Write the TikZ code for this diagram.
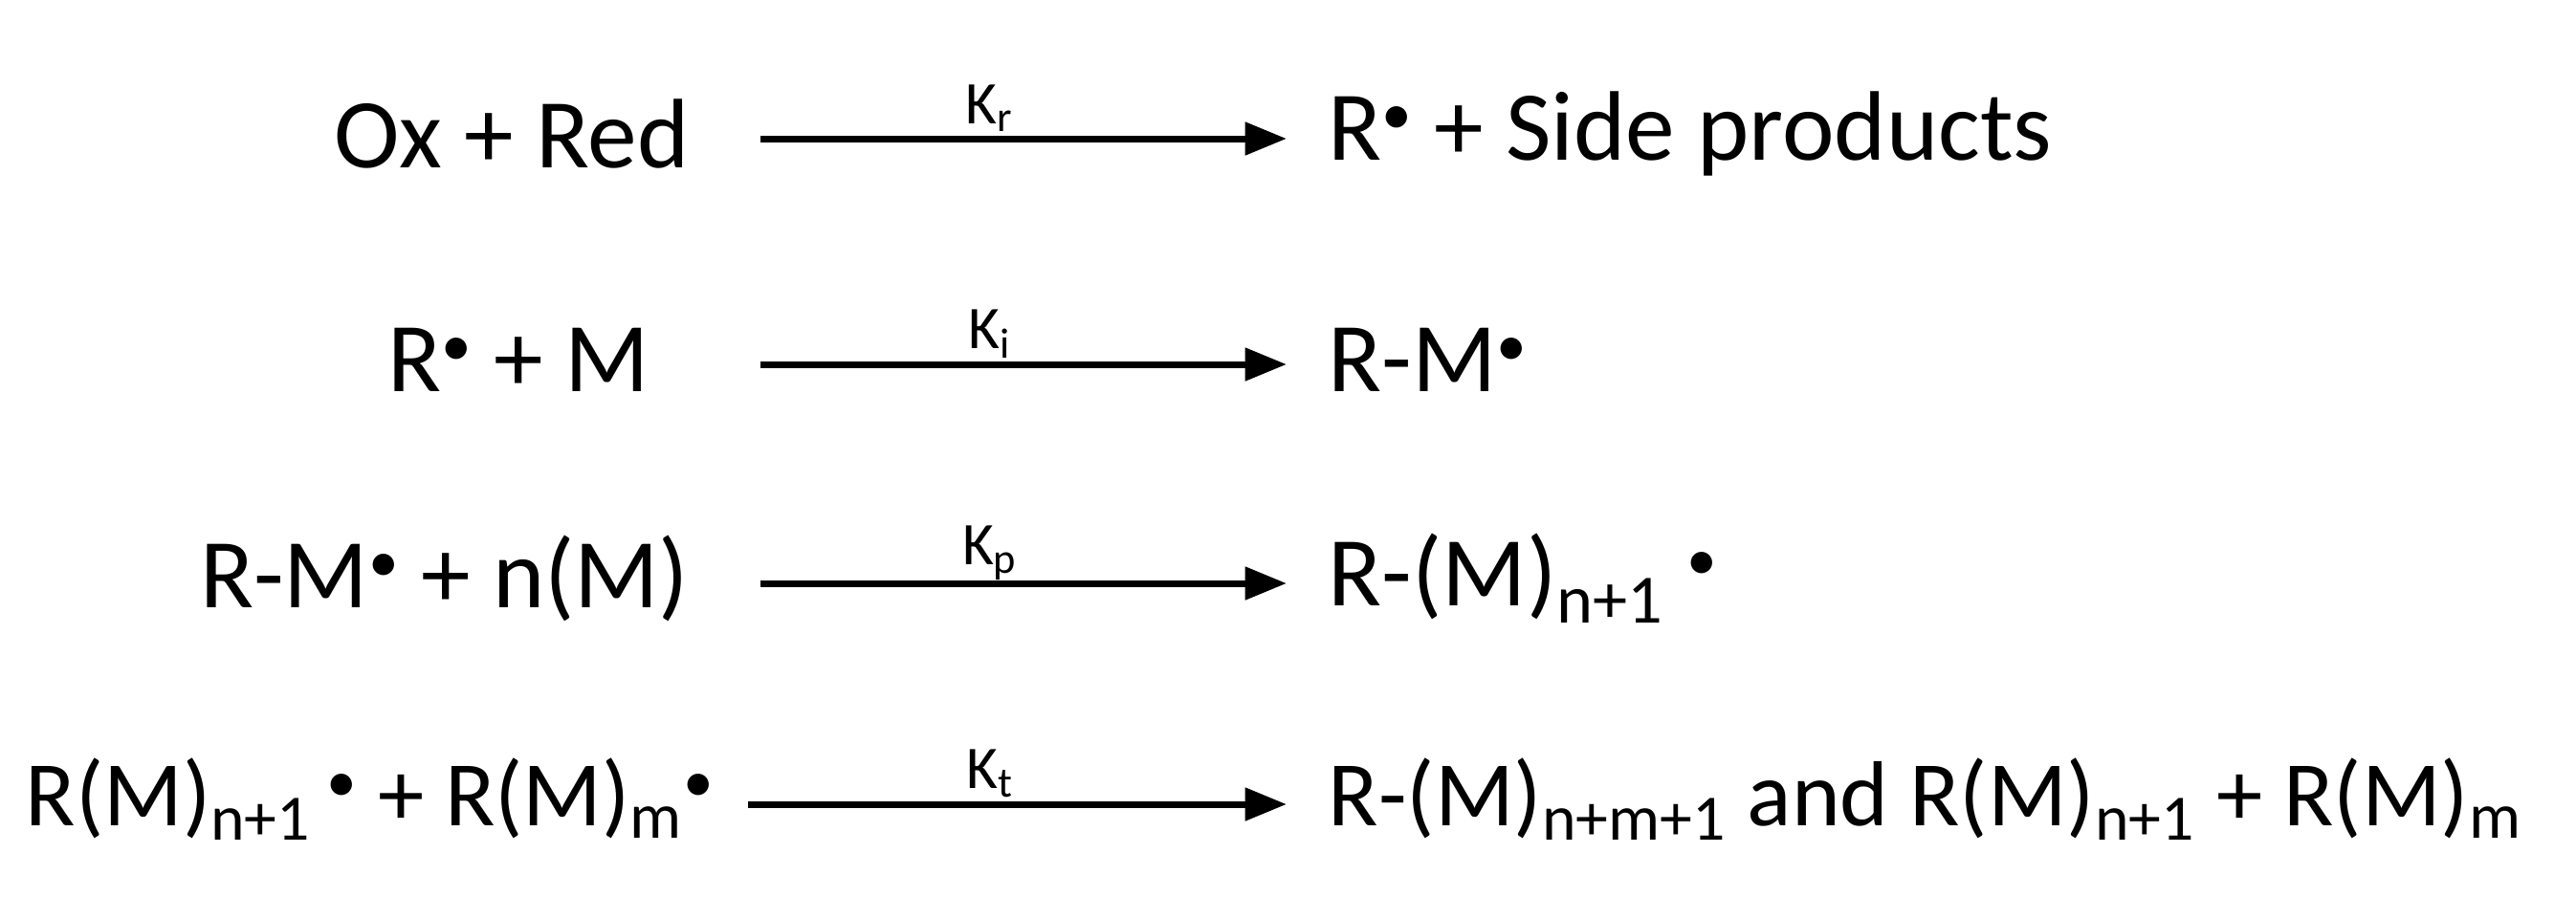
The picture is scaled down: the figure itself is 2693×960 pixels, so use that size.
\documentclass[tikz,border=0pt]{standalone}
\usepackage{fontspec}
\setmainfont{Carlito}
\usetikzlibrary{arrows.meta}
\newcommand{\rad}{\raisebox{0.55ex}{\fontsize{19}{19}\selectfont •}}
\newcommand{\sub}[1]{\textsubscript{#1}}
\begin{document}
\begin{tikzpicture}[x=0.3pt,y=-0.3pt,
  txt/.style={inner sep=0pt,font=\fontsize{31}{34}\selectfont},
  txtb/.style={inner sep=0pt,font=\fontsize{29}{32}\selectfont},
  lbl/.style={inner sep=0pt,font=\fontsize{19}{21}\selectfont},
  rx/.style={line width=2.1pt,-{Triangle[length=13pt,width=10pt]}}]
\useasboundingbox (0,0) rectangle (2693,960);
% row 1
\node[txt,anchor=east] (l1) at (721,140) {Ox + Red};
\node[txt,anchor=west] (r1) at (1388,140) {R\rad{} + Side products};
\coordinate (a1) at (795,145); \coordinate (b1) at (1345,145);
\draw[rx] (a1) -- (b1);
\node[lbl] (k1) at (1035,113) {K\sub{r}};
% row 2
\node[txt,anchor=east] (l2) at (680,376) {R\rad{} + M};
\node[txt,anchor=west] (r2) at (1388,376) {R-M\rad};
\coordinate (a2) at (795,381); \coordinate (b2) at (1345,381);
\draw[rx] (a2) -- (b2);
\node[lbl] (k2) at (1035,349) {K\sub{i}};
% row 3
\node[txt,anchor=east] (l3) at (721,605) {R-M\rad{} + n(M)};
\node[txt,anchor=west] (r3) at (1388,605) {R-(M)\sub{n+1} \rad};
\coordinate (a3) at (795,610); \coordinate (b3) at (1345,610);
\draw[rx] (a3) -- (b3);
\node[lbl] (k3) at (1035,578) {K\sub{p}};
% row 4
\node[txtb,anchor=west] (l4) at (26,836) {R(M)\sub{n+1}\,\rad{} + R(M)\sub{m}\rad};
\node[txtb,anchor=west] (r4) at (1388,836) {R-(M)\sub{n+m+1} and R(M)\sub{n+1} + R(M)\sub{m}};
\coordinate (a4) at (782,841); \coordinate (b4) at (1345,841);
\draw[rx] (a4) -- (b4);
\node[lbl] (k4) at (1035,809) {K\sub{t}};
\end{tikzpicture}
\end{document}
